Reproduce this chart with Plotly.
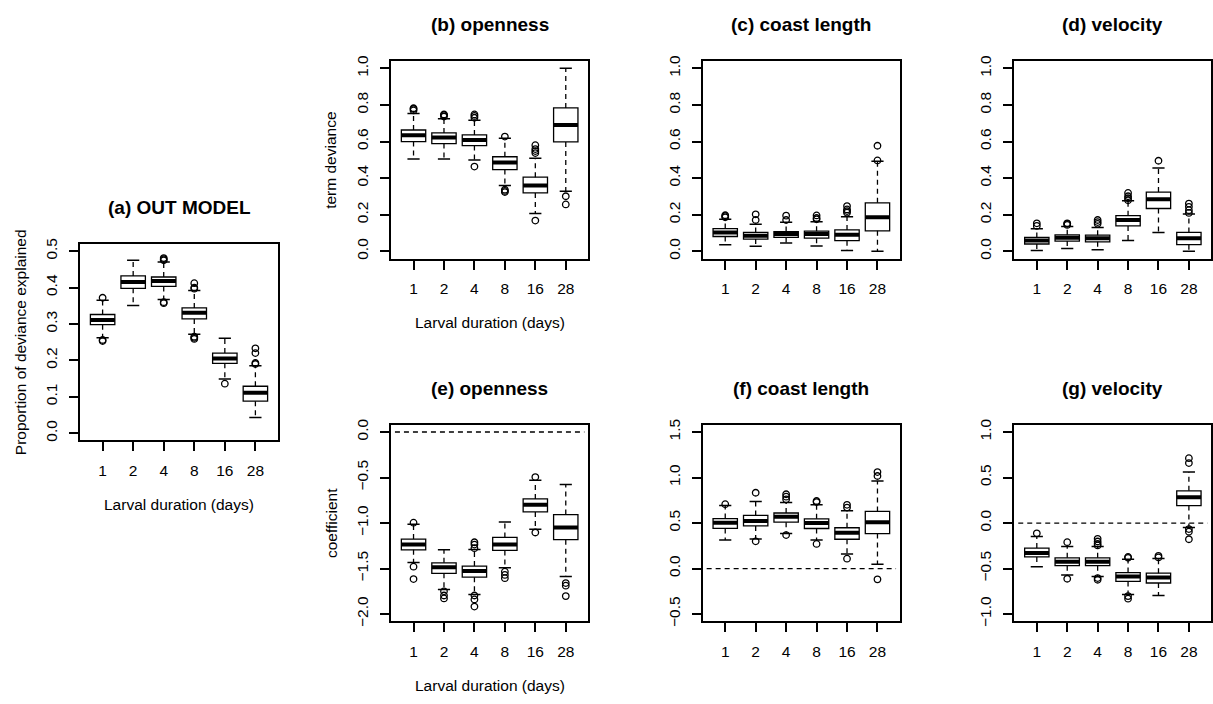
import plotly.graph_objects as go

W, H = 1213, 704

# ---------------- data ----------------
DURATIONS = ["1", "2", "4", "8", "16", "28"]

# (a) OUT MODEL
a_low = [0.262, 0.351, 0.367, 0.272, 0.149, 0.043]
a_q1 = [0.298, 0.398, 0.403, 0.314, 0.192, 0.088]
a_med = [0.311, 0.415, 0.418, 0.331, 0.205, 0.111]
a_q3 = [0.326, 0.432, 0.429, 0.344, 0.220, 0.129]
a_up = [0.365, 0.475, 0.470, 0.392, 0.261, 0.185]
a_out = [[0.372, 0.256, 0.253], [], [0.475, 0.478, 0.481, 0.360, 0.357],
         [0.412, 0.400, 0.397, 0.265, 0.262, 0.259], [0.136],
         [0.190, 0.193, 0.220, 0.233]]

# (b) openness - term deviance
b_low = [0.505, 0.505, 0.499, 0.360, 0.207, 0.328]
b_q1 = [0.600, 0.589, 0.578, 0.447, 0.319, 0.598]
b_med = [0.634, 0.622, 0.609, 0.485, 0.360, 0.690]
b_q3 = [0.663, 0.647, 0.636, 0.517, 0.405, 0.784]
b_up = [0.753, 0.724, 0.717, 0.618, 0.508, 1.000]
b_out = [[0.770, 0.778, 0.782], [0.737, 0.745, 0.748], [0.730, 0.740, 0.748, 0.463],
         [0.627, 0.337, 0.330, 0.324], [0.537, 0.548, 0.559, 0.580, 0.168],
         [0.301, 0.256]]

# (c) coast length - term deviance
c_low = [0.036, 0.027, 0.045, 0.029, 0.005, 0.000]
c_q1 = [0.081, 0.067, 0.076, 0.072, 0.058, 0.112]
c_med = [0.103, 0.085, 0.094, 0.094, 0.090, 0.186]
c_q3 = [0.124, 0.103, 0.108, 0.110, 0.117, 0.265]
c_up = [0.175, 0.148, 0.159, 0.162, 0.189, 0.492]
c_out = [[0.186, 0.192, 0.197], [0.171, 0.202], [0.171, 0.195], [0.175, 0.182, 0.196],
         [0.211, 0.220, 0.229, 0.247], [0.497, 0.577]]

# (d) velocity - term deviance
d_low = [0.005, 0.016, 0.009, 0.059, 0.103, 0.000]
d_q1 = [0.040, 0.056, 0.052, 0.139, 0.234, 0.036]
d_med = [0.059, 0.074, 0.072, 0.171, 0.285, 0.072]
d_q3 = [0.076, 0.090, 0.088, 0.195, 0.324, 0.103]
d_up = [0.123, 0.135, 0.130, 0.276, 0.456, 0.204]
d_out = [[0.139, 0.153], [0.144, 0.150, 0.153], [0.150, 0.160, 0.171],
         [0.279, 0.290, 0.301, 0.319], [0.495], [0.210, 0.225, 0.243, 0.261]]

# (e) openness - coefficient
e_low = [-1.434, -1.731, -1.785, -1.491, -1.068, -1.588]
e_q1 = [-1.294, -1.552, -1.595, -1.301, -0.878, -1.183]
e_med = [-1.237, -1.487, -1.527, -1.237, -0.799, -1.050]
e_q3 = [-1.176, -1.437, -1.473, -1.158, -0.735, -0.907]
e_up = [-1.014, -1.294, -1.290, -0.989, -0.530, -0.577]
e_out = [[-0.996, -1.480, -1.616], [-1.750, -1.796, -1.828],
         [-1.211, -1.237, -1.276, -1.796, -1.839, -1.918], [-1.534, -1.570, -1.606],
         [-0.495, -1.104], [-1.660, -1.688, -1.803]]

# (f) coast length - coefficient
f_low = [0.314, 0.324, 0.384, 0.314, 0.160, 0.047]
f_q1 = [0.441, 0.468, 0.510, 0.440, 0.322, 0.384]
f_med = [0.503, 0.523, 0.568, 0.501, 0.394, 0.509]
f_q3 = [0.549, 0.584, 0.610, 0.546, 0.448, 0.628]
f_up = [0.693, 0.736, 0.725, 0.700, 0.636, 0.963]
f_out = [[0.707], [0.833, 0.299], [0.760, 0.790, 0.816, 0.368], [0.730, 0.742, 0.270],
         [0.670, 0.700, 0.108], [1.017, 1.060, -0.119]]

# (g) velocity - coefficient
g_low = [-0.480, -0.570, -0.587, -0.785, -0.795, -0.048]
g_q1 = [-0.372, -0.469, -0.469, -0.641, -0.659, 0.192]
g_med = [-0.329, -0.425, -0.425, -0.587, -0.598, 0.282]
g_q3 = [-0.275, -0.382, -0.382, -0.544, -0.551, 0.354]
g_up = [-0.149, -0.257, -0.257, -0.397, -0.390, 0.562]
g_out = [[-0.113], [-0.210, -0.612], [-0.174, -0.203, -0.228, -0.246, -0.605, -0.623],
         [-0.372, -0.382, -0.803, -0.831], [-0.360, -0.378],
         [0.659, 0.713, -0.066, -0.095, -0.178]]

TITLES = ["(a) OUT MODEL", "(b) openness", "(c) coast length", "(d) velocity",
          "(e) openness", "(f) coast length", "(g) velocity"]
XLABEL = "Larval duration (days)"

# ---------------- layout config ----------------
FONT = "Liberation Sans, Arial, Helvetica, sans-serif"
TICK_SIZE = 15.5
TITLE_SIZE = 19

panels = [
    # stats, frame (left, top, right, bottom) in px, y range, y dtick, ylab, show xlab, zero line
    dict(s=(a_low, a_q1, a_med, a_q3, a_up, a_out), box=(80, 242, 278, 442),
         yr=(-0.02, 0.52), dt=0.1, ylab="Proportion of deviance explained", xlab=True, ref=False),
    dict(s=(b_low, b_q1, b_med, b_q3, b_up, b_out), box=(391, 56, 588.3, 257),
         yr=(-0.04, 1.04), dt=0.2, ylab="term deviance", xlab=True, ref=False),
    dict(s=(c_low, c_q1, c_med, c_q3, c_up, c_out), box=(702.7, 56, 900, 257),
         yr=(-0.04, 1.04), dt=0.2, ylab=None, xlab=False, ref=False),
    dict(s=(d_low, d_q1, d_med, d_q3, d_up, d_out), box=(1014.3, 56, 1211.4, 257),
         yr=(-0.04, 1.04), dt=0.2, ylab=None, xlab=False, ref=False),
    dict(s=(e_low, e_q1, e_med, e_q3, e_up, e_out), box=(391, 426, 588.3, 626),
         yr=(-2.08, 0.08), dt=0.5, ylab="coefficient", xlab=True, ref=True),
    dict(s=(f_low, f_q1, f_med, f_q3, f_up, f_out), box=(702.7, 426, 900, 626),
         yr=(-0.58, 1.58), dt=0.5, ylab=None, xlab=False, ref=True),
    dict(s=(g_low, g_q1, g_med, g_q3, g_up, g_out), box=(1014.3, 426, 1211.4, 626),
         yr=(-1.08, 1.08), dt=0.5, ylab=None, xlab=False, ref=True),
]

BOXW = 0.8
CAPW = 0.4

fig = go.Figure()
annotations = []
shapes = []
layout_axes = {}
pos = list(range(1, len(DURATIONS) + 1))

for k, p in enumerate(panels):
    n = k + 1
    xa = "x" if n == 1 else f"x{n}"
    ya = "y" if n == 1 else f"y{n}"
    low, q1, med, q3, up, outs = p["s"]

    # dashed whiskers
    wx, wy = [], []
    for i, x in enumerate(pos):
        wx += [x, x, None, x, x, None]
        wy += [q3[i], up[i], None, q1[i], low[i], None]
    fig.add_trace(go.Scatter(x=wx, y=wy, mode="lines", xaxis=xa, yaxis=ya,
                             line=dict(color="black", width=1.3, dash="5px,4px"),
                             showlegend=False, hoverinfo="skip"))
    # box body
    fig.add_trace(go.Box(x=pos, q1=q1, median=med, q3=q3, lowerfence=q1, upperfence=q3,
                         width=BOXW, whiskerwidth=0, fillcolor="white",
                         line=dict(color="black", width=1.3), xaxis=xa, yaxis=ya,
                         showlegend=False, boxpoints=False))
    # staples
    cx, cy = [], []
    for i, x in enumerate(pos):
        cx += [x - CAPW / 2, x + CAPW / 2, None, x - CAPW / 2, x + CAPW / 2, None]
        cy += [up[i], up[i], None, low[i], low[i], None]
    fig.add_trace(go.Scatter(x=cx, y=cy, mode="lines", xaxis=xa, yaxis=ya,
                             line=dict(color="black", width=1.5),
                             showlegend=False, hoverinfo="skip"))
    # thick medians
    mx, my = [], []
    for i, x in enumerate(pos):
        mx += [x - BOXW / 2, x + BOXW / 2, None]
        my += [med[i], med[i], None]
    fig.add_trace(go.Scatter(x=mx, y=my, mode="lines", xaxis=xa, yaxis=ya,
                             line=dict(color="black", width=4),
                             showlegend=False, hoverinfo="skip"))
    # outliers
    ox, oy = [], []
    for i, x in enumerate(pos):
        for v in outs[i]:
            ox.append(x)
            oy.append(v)
    fig.add_trace(go.Scatter(x=ox, y=oy, mode="markers", xaxis=xa, yaxis=ya,
                             marker=dict(symbol="circle-open", size=6.5, color="black",
                                         line=dict(width=1.3)),
                             showlegend=False, hoverinfo="skip"))

    l, t, r, b = p["box"]
    xdom = [l / W, r / W]
    ydom = [1 - b / H, 1 - t / H]
    axis_common = dict(showline=True, mirror=True, linewidth=2, linecolor="black",
                       ticks="outside", ticklen=9, tickwidth=1.5, tickcolor="black",
                       showgrid=False, zeroline=False, fixedrange=True,
                       tickfont=dict(family=FONT, size=TICK_SIZE, color="black"))
    layout_axes["xaxis" if n == 1 else f"xaxis{n}"] = dict(
        domain=xdom, range=[0.26, len(DURATIONS) + 0.74], anchor=ya,
        tickvals=pos, ticktext=DURATIONS, ticklabelstandoff=6, **axis_common)
    layout_axes["yaxis" if n == 1 else f"yaxis{n}"] = dict(
        domain=ydom, range=list(p["yr"]), anchor=xa, dtick=p["dt"], tick0=0,
        tickformat=".1f", tickangle=-90, ticklabelstandoff=6, **axis_common)

    cxp = (l + r) / 2 / W
    annotations.append(dict(text=f"<b>{TITLES[k]}</b>", x=cxp, y=1 - (t - 37) / H,
                            xref="paper", yref="paper", showarrow=False,
                            xanchor="center", yanchor="middle",
                            font=dict(family=FONT, size=TITLE_SIZE, color="black")))
    if p["xlab"]:
        annotations.append(dict(text=XLABEL, x=cxp, y=1 - (b + 65) / H,
                                xref="paper", yref="paper", showarrow=False,
                                xanchor="center", yanchor="middle",
                                font=dict(family=FONT, size=TICK_SIZE, color="black")))
    if p["ylab"]:
        annotations.append(dict(text=p["ylab"], x=(l - 60) / W, y=1 - (t + b) / 2 / H,
                                xref="paper", yref="paper", showarrow=False,
                                textangle=-90, xanchor="center", yanchor="middle",
                                font=dict(family=FONT, size=TICK_SIZE, color="black")))
    if p["ref"]:
        shapes.append(dict(type="line", xref=f"{xa} domain", yref=ya, x0=0.02, x1=0.98,
                           y0=0, y1=0, line=dict(color="black", width=1.3, dash="5px,4px")))

fig.update_layout(width=W, height=H, margin=dict(l=0, r=0, t=0, b=0),
                  paper_bgcolor="white", plot_bgcolor="white",
                  annotations=annotations, shapes=shapes, showlegend=False,
                  font=dict(family=FONT, color="black"), **layout_axes)

fig.write_html("out.html")
